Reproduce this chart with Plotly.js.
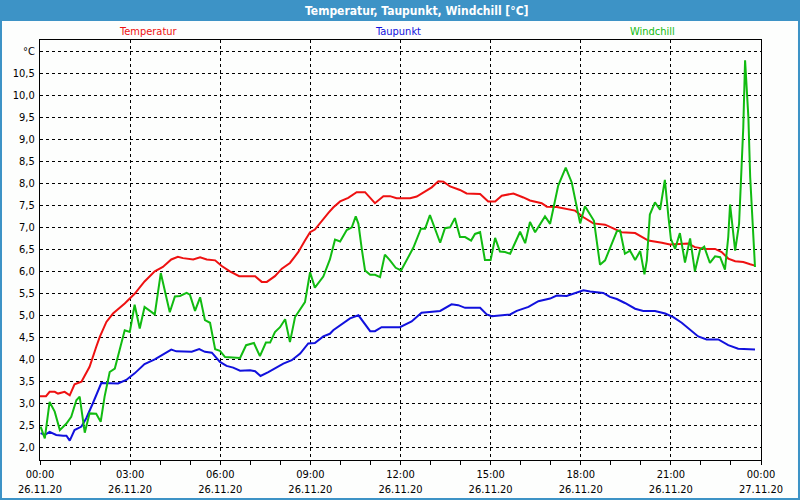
<!DOCTYPE html>
<html>
<head>
<meta charset="utf-8">
<script src="https://cdn.plot.ly/plotly-3.0.1.min.js"></script>
<style>
  html, body { margin: 0; padding: 0; background: #3d93c6; }
  #chart { width: 800px; height: 500px; }
</style>
</head>
<body>
<div id="chart"></div>
<script>
// hours since 26.11.20 00:00 and values in degC
var tempHours = [0, 0.2, 0.32, 0.49, 0.6, 0.82, 0.99, 1.15, 1.38, 1.65, 1.87, 1.99, 2.21, 2.43, 2.82, 3.15, 3.48, 3.82, 4.09, 4.37, 4.59, 4.76, 5.1, 5.33, 5.55, 5.83, 6.05, 6.32, 6.63, 7.16, 7.38, 7.55, 7.82, 8.05, 8.32, 8.6, 8.82, 8.99, 9.15, 9.38, 9.6, 9.76, 9.99, 10.26, 10.54, 10.82, 11.15, 11.43, 11.65, 11.87, 12.32, 12.54, 12.76, 13.04, 13.26, 13.43, 13.65, 13.98, 14.2, 14.65, 14.92, 15.15, 15.37, 15.76, 16.09, 16.31, 16.7, 16.87, 17.2, 17.53, 17.81, 18.09, 18.42, 18.81, 19.2, 19.36, 19.81, 20.03, 20.25, 20.7, 20.97, 21.58, 21.8, 22.14, 22.47, 22.69, 22.91, 23.14, 23.41, 23.64, 23.8];
var temperatur = [3.16, 3.16, 3.26, 3.26, 3.22, 3.26, 3.18, 3.43, 3.49, 3.83, 4.28, 4.51, 4.85, 5.04, 5.27, 5.49, 5.77, 6.0, 6.10, 6.27, 6.33, 6.30, 6.27, 6.32, 6.27, 6.25, 6.12, 6.0, 5.89, 5.89, 5.76, 5.76, 5.89, 6.06, 6.19, 6.44, 6.70, 6.89, 6.95, 7.15, 7.33, 7.45, 7.59, 7.67, 7.80, 7.80, 7.55, 7.71, 7.71, 7.66, 7.66, 7.70, 7.80, 7.91, 8.05, 8.04, 7.93, 7.85, 7.77, 7.76, 7.59, 7.59, 7.72, 7.77, 7.68, 7.61, 7.55, 7.47, 7.46, 7.42, 7.38, 7.23, 7.09, 7.06, 6.93, 6.89, 6.87, 6.79, 6.70, 6.65, 6.61, 6.63, 6.55, 6.51, 6.51, 6.44, 6.29, 6.23, 6.21, 6.16, 6.13];

var dewHours = [0.02, 0.16, 0.32, 0.54, 0.77, 0.88, 0.99, 1.15, 1.38, 1.54, 1.76, 1.93, 2.04, 2.6, 2.87, 3.15, 3.48, 3.82, 4.15, 4.37, 4.54, 5.05, 5.3, 5.49, 5.72, 5.99, 6.21, 6.43, 6.66, 6.99, 7.16, 7.34, 7.6, 7.82, 8.1, 8.38, 8.66, 8.93, 9.15, 9.43, 9.65, 9.76, 10.04, 10.32, 10.6, 10.82, 10.99, 11.15, 11.37, 11.98, 12.37, 12.7, 13.32, 13.7, 13.92, 14.15, 14.65, 14.87, 15.04, 15.65, 15.87, 16.26, 16.59, 16.98, 17.2, 17.53, 17.87, 18.09, 18.31, 18.75, 18.97, 19.2, 19.47, 19.81, 20.08, 20.47, 20.81, 21.08, 21.36, 21.64, 21.91, 22.19, 22.58, 22.91, 23.24, 23.8];
var taupunkt = [2.32, 2.28, 2.35, 2.28, 2.26, 2.26, 2.15, 2.39, 2.47, 2.66, 3.0, 3.26, 3.46, 3.45, 3.53, 3.68, 3.89, 4.0, 4.13, 4.22, 4.18, 4.17, 4.23, 4.17, 4.15, 3.94, 3.85, 3.81, 3.74, 3.75, 3.73, 3.62, 3.71, 3.79, 3.90, 3.98, 4.13, 4.36, 4.37, 4.52, 4.58, 4.66, 4.79, 4.93, 5.0, 4.81, 4.64, 4.64, 4.73, 4.73, 4.86, 5.06, 5.10, 5.25, 5.23, 5.17, 5.17, 5.02, 4.98, 5.02, 5.10, 5.19, 5.32, 5.38, 5.45, 5.44, 5.51, 5.57, 5.54, 5.51, 5.42, 5.37, 5.28, 5.15, 5.10, 5.10, 5.04, 4.96, 4.83, 4.68, 4.52, 4.45, 4.45, 4.32, 4.24, 4.22];

var chillHours = [0.02, 0.16, 0.32, 0.49, 0.66, 0.88, 1.04, 1.21, 1.32, 1.41, 1.49, 1.65, 1.87, 2.02, 2.15, 2.32, 2.49, 2.65, 2.82, 2.99, 3.15, 3.32, 3.48, 3.82, 4.02, 4.32, 4.49, 4.66, 4.88, 4.99, 5.16, 5.33, 5.49, 5.66, 5.83, 5.99, 6.16, 6.66, 6.86, 7.12, 7.32, 7.52, 7.66, 7.82, 7.99, 8.16, 8.32, 8.49, 8.82, 8.99, 9.15, 9.43, 9.65, 9.82, 9.99, 10.21, 10.38, 10.51, 10.6, 10.71, 10.82, 10.99, 11.15, 11.32, 11.48, 11.65, 11.84, 12.02, 12.43, 12.68, 12.82, 12.98, 13.32, 13.48, 13.65, 13.81, 13.98, 14.15, 14.35, 14.48, 14.65, 14.81, 15.0, 15.15, 15.31, 15.48, 15.65, 15.98, 16.15, 16.31, 16.48, 16.81, 16.98, 17.25, 17.5, 17.7, 17.84, 17.98, 18.14, 18.44, 18.64, 18.81, 19.2, 19.31, 19.47, 19.64, 19.81, 19.98, 20.12, 20.2, 20.3, 20.47, 20.64, 20.8, 20.92, 21.0, 21.14, 21.3, 21.47, 21.64, 21.8, 21.97, 22.11, 22.3, 22.47, 22.64, 22.8, 22.91, 22.97, 23.05, 23.14, 23.27, 23.36, 23.41, 23.47, 23.52, 23.58, 23.64, 23.69, 23.8];
var windchill = [2.47, 2.20, 3.03, 2.81, 2.39, 2.54, 2.69, 3.07, 3.15, 2.69, 2.33, 2.77, 2.76, 2.58, 3.15, 3.71, 3.79, 4.21, 4.66, 4.62, 5.24, 4.70, 5.19, 5.02, 5.96, 5.07, 5.43, 5.44, 5.51, 5.47, 5.10, 5.41, 4.89, 4.83, 4.23, 4.19, 4.05, 4.03, 4.32, 4.37, 4.07, 4.38, 4.38, 4.62, 4.73, 4.91, 4.39, 4.96, 5.30, 5.98, 5.63, 5.88, 6.27, 6.72, 6.68, 6.94, 7.0, 7.25, 7.08, 6.51, 6.02, 5.92, 5.92, 5.87, 6.38, 6.25, 6.08, 6.02, 6.54, 6.97, 6.97, 7.28, 6.65, 6.98, 7.0, 7.21, 6.78, 6.78, 6.70, 6.85, 6.89, 6.26, 6.26, 6.76, 6.45, 6.44, 6.40, 6.90, 6.64, 7.12, 6.89, 7.25, 7.08, 7.95, 8.36, 8.02, 7.53, 7.09, 7.48, 7.15, 6.15, 6.25, 6.91, 6.93, 6.40, 6.47, 6.26, 6.46, 5.93, 6.25, 7.29, 7.57, 7.40, 8.08, 7.23, 6.74, 6.51, 6.87, 6.20, 6.75, 6.0, 6.49, 6.56, 6.19, 6.34, 6.32, 6.04, 6.78, 7.52, 6.97, 6.47, 7.08, 8.51, 9.27, 10.80, 10.10, 9.50, 8.14, 7.46, 6.10];

var xTickVals = [0, 3, 6, 9, 12, 15, 18, 21, 24];
var xTickText = ['00:00<br>26.11.20', '03:00<br>26.11.20', '06:00<br>26.11.20', '09:00<br>26.11.20', '12:00<br>26.11.20', '15:00<br>26.11.20', '18:00<br>26.11.20', '21:00<br>26.11.20', '00:00<br>27.11.20'];
var yTickVals = [2, 2.5, 3, 3.5, 4, 4.5, 5, 5.5, 6, 6.5, 7, 7.5, 8, 8.5, 9, 9.5, 10, 10.5, 11];
var yTickText = ['2,0', '2,5', '3,0', '3,5', '4,0', '4,5', '5,0', '5,5', '6,0', '6,5', '7,0', '7,5', '8,0', '8,5', '9,0', '9,5', '10,0', '10,5', '°C'];

var seriesNames = ['Temperatur', 'Taupunkt', 'Windchill'];
var seriesColors = ['#ee1111', '#1111dd', '#11bb11'];

var FONT = 'Tahoma, "DejaVu Sans Condensed", "DejaVu Sans", sans-serif';

var traces = [
  {x: tempHours, y: temperatur},
  {x: dewHours, y: taupunkt},
  {x: chillHours, y: windchill}
].map(function(t, i){
  return {
    x: t.x, y: t.y, type: 'scatter', mode: 'lines',
    name: seriesNames[i],
    line: {color: seriesColors[i], width: 2},
    hoverinfo: 'skip'
  };
});

// coloured names above the plot instead of a legend
var labelPos = [0.15, 0.497, 0.849];
var annotations = seriesNames.map(function(n, i){
  return {
    text: n, xref: 'paper', yref: 'paper', x: labelPos[i], y: 1.021,
    xanchor: 'center', yanchor: 'middle', showarrow: false,
    font: {family: FONT, size: 11, color: seriesColors[i]}
  };
});

var layout = {
  width: 800, height: 500,
  margin: {l: 40, r: 39, t: 40, b: 40},
  paper_bgcolor: '#3d93c6',
  plot_bgcolor: '#fdfefd',
  showlegend: false,
  font: {family: FONT, size: 11, color: '#000'},
  title: {
    text: 'Temperatur, Taupunkt, Windchill [°C]',
    xref: 'container', yref: 'container', x: 0.521, y: 0.978,
    xanchor: 'center', yanchor: 'middle',
    font: {family: FONT, size: 12, color: '#ffffff', weight: 'bold'}
  },
  shapes: [{
    // white window body under the blue title bar
    type: 'rect', xref: 'paper', yref: 'paper', layer: 'below',
    x0: -0.0527, x1: 1.0513, y0: -0.0905, y1: 1.0452,
    fillcolor: '#fdfefd', line: {width: 0}
  }],
  annotations: annotations,
  xaxis: {
    range: [0, 24], fixedrange: true,
    tickmode: 'array', tickvals: xTickVals, ticktext: xTickText,
    ticks: 'outside', ticklen: 4, tickcolor: '#000',
    showline: true, linecolor: '#000', linewidth: 1, mirror: true,
    showgrid: true, gridcolor: '#000', griddash: '3px,3px', gridwidth: 1,
    zeroline: false,
    minor: {dtick: 1, tick0: 0, ticks: 'outside', ticklen: 4, tickcolor: '#000', showgrid: false},
    tickfont: {family: FONT, size: 11, color: '#000'}
  },
  yaxis: {
    range: [1.71, 11.26], fixedrange: true,
    tickmode: 'array', tickvals: yTickVals, ticktext: yTickText,
    ticks: '', ticklabelstandoff: 2,
    showline: true, linecolor: '#000', linewidth: 1, mirror: true,
    showgrid: true, gridcolor: '#000', griddash: '3px,3px', gridwidth: 1,
    zeroline: false,
    tickfont: {family: FONT, size: 11, color: '#000'}
  }
};

Plotly.newPlot('chart', traces, layout, {staticPlot: true});
</script>
</body>
</html>
